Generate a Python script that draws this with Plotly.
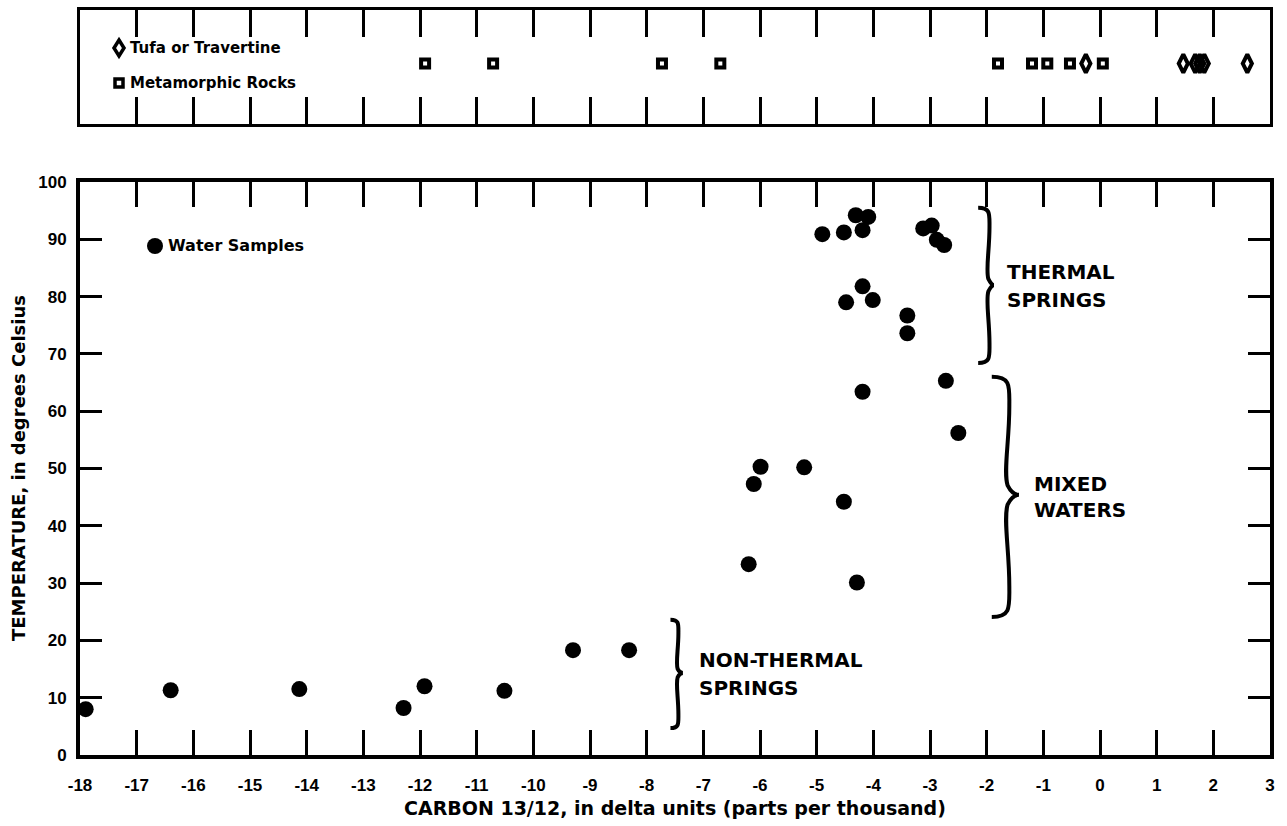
import plotly.graph_objects as go

# --- Carbon-13/12 (delta units) and temperature of water samples ---
water_d13c = [-17.9, -16.4, -14.13, -12.29, -11.92, -10.51, -9.30, -8.31,
              -6.20, -6.11, -5.99, -5.22, -4.52, -4.29, -4.19, -2.72, -2.50,
              -4.90, -4.52, -4.31, -4.09, -4.19, -3.12, -2.97, -2.88, -2.75,
              -4.19, -4.48, -4.01, -3.40, -3.40]
water_temp_c = [8.0, 11.3, 11.5, 8.2, 12.0, 11.2, 18.3, 18.3,
                33.3, 47.3, 50.3, 50.2, 44.2, 30.1, 63.4, 65.3, 56.2,
                90.9, 91.2, 94.2, 93.9, 91.6, 91.9, 92.4, 89.9, 89.0,
                81.8, 79.0, 79.4, 76.7, 73.6]

# --- Rock samples (strip above the main plot) ---
tufa_d13c = [-0.25, 1.47, 1.68, 1.76, 1.84, 2.60]
metamorphic_d13c = [-11.91, -10.71, -7.73, -6.70, -1.80, -1.20, -0.93, -0.53, 0.05]

# --- Axis ticks ---
x_ticks = list(range(-18, 4))
x_tick_labels = [str(v) for v in x_ticks]
y_ticks = list(range(0, 101, 10))
y_tick_labels = [str(v) for v in y_ticks]

STRIP_ROW = 0.53
INK = "black"
TICK_FONT = dict(family="Liberation Sans", size=17, color=INK, weight="bold")
TEXT_FONT = dict(family="DejaVu Sans", size=20, color=INK, weight="bold")

fig = go.Figure()

fig.add_trace(go.Scatter(
    x=water_d13c, y=water_temp_c, mode="markers", name="Water Samples",
    marker=dict(symbol="circle", size=16, color=INK, line=dict(width=0)),
    xaxis="x", yaxis="y", showlegend=False))

fig.add_trace(go.Scatter(
    x=metamorphic_d13c, y=[STRIP_ROW] * len(metamorphic_d13c), mode="markers",
    name="Metamorphic Rocks",
    marker=dict(symbol="square-open", size=8, color=INK, line=dict(width=4, color=INK)),
    xaxis="x2", yaxis="y2", showlegend=False))

fig.add_trace(go.Scatter(
    x=tufa_d13c, y=[STRIP_ROW] * len(tufa_d13c), mode="markers",
    name="Tufa or Travertine",
    marker=dict(symbol="diamond-tall-open", size=13, color=INK, line=dict(width=4, color=INK)),
    xaxis="x2", yaxis="y2", showlegend=False))


def brace_path(x_end, x_spine, x_tip, y_top, y_bot, y_tip):
    """Right-facing curly brace '}' in data coordinates, built from cubic curves."""
    w = x_spine - x_end
    t = x_tip - x_spine
    h1 = y_top - y_tip
    h2 = y_tip - y_bot
    return (
        f"M {x_end},{y_top} "
        f"C {x_spine + 0.1 * w},{y_top} {x_spine},{y_top - 0.08 * h1} {x_spine},{y_top - 0.25 * h1} "
        f"C {x_spine},{y_top - 0.55 * h1} {x_spine - 0.35 * w},{y_tip + 0.2 * h1} {x_spine - 0.1 * w},{y_tip + 0.08 * h1} "
        f"C {x_spine + 0.1 * w},{y_tip + 0.02 * h1} {x_spine + 0.6 * t},{y_tip} {x_tip},{y_tip} "
        f"C {x_spine + 0.6 * t},{y_tip} {x_spine + 0.1 * w},{y_tip - 0.02 * h2} {x_spine - 0.1 * w},{y_tip - 0.08 * h2} "
        f"C {x_spine - 0.35 * w},{y_tip - 0.2 * h2} {x_spine},{y_bot + 0.55 * h2} {x_spine},{y_bot + 0.25 * h2} "
        f"C {x_spine},{y_bot + 0.08 * h2} {x_spine + 0.1 * w},{y_bot} {x_end},{y_bot}"
    )


shapes = []
for x_end, x_spine, x_tip, y_top, y_bot, y_tip in [
        (-2.15, -1.95, -1.87, 95.5, 68.4, 82.0),    # thermal springs
        (-1.91, -1.60, -1.43, 66.0, 24.1, 45.4),    # mixed waters
        (-7.58, -7.44, -7.36, 23.6, 4.7, 14.3)]:    # non-thermal springs
    shapes.append(dict(type="path", xref="x", yref="y",
                       path=brace_path(x_end, x_spine, x_tip, y_top, y_bot, y_tip),
                       line=dict(color=INK, width=4)))

# Legend keys (pixel-sized, anchored in paper coordinates)
PLOT_L, PLOT_R, PLOT_B, PLOT_T = 80, 1270, 755, 10
PLOT_H = 826 - 71 - 10


def px(xp):
    return (xp - PLOT_L) / (PLOT_R - PLOT_L)


def py(yp):
    return (PLOT_B - yp) / PLOT_H


shapes.append(dict(type="circle", xref="paper", yref="paper",
                   xsizemode="pixel", ysizemode="pixel",
                   xanchor=px(155), yanchor=py(246),
                   x0=-8, x1=8, y0=-8, y1=8, fillcolor=INK, line=dict(width=0)))
shapes.append(dict(type="path", xref="paper", yref="paper",
                   xsizemode="pixel", ysizemode="pixel",
                   xanchor=px(119), yanchor=py(48),
                   path="M 0,8 L 5,0 L 0,-8 L -5,0 Z",
                   fillcolor="white", line=dict(color=INK, width=3.5)))
shapes.append(dict(type="rect", xref="paper", yref="paper",
                   xsizemode="pixel", ysizemode="pixel",
                   xanchor=px(119), yanchor=py(83),
                   x0=-4, x1=4, y0=-4, y1=4,
                   fillcolor="white", line=dict(color=INK, width=3.5)))

annotations = [
    dict(text="Water Samples", x=px(166), y=py(246), xref="paper", yref="paper",
         xanchor="left", yanchor="middle", showarrow=False,
         font=dict(TEXT_FONT, size=16)),
    dict(text="Tufa or Travertine", x=px(128), y=py(48), xref="paper", yref="paper",
         xanchor="left", yanchor="middle", showarrow=False,
         font=dict(TEXT_FONT, size=15)),
    dict(text="Metamorphic Rocks", x=px(128), y=py(83), xref="paper", yref="paper",
         xanchor="left", yanchor="middle", showarrow=False,
         font=dict(TEXT_FONT, size=15)),
    dict(text="CARBON 13/12, in delta units (parts per thousand)",
         x=0.5, y=py(808), xref="paper", yref="paper",
         xanchor="center", yanchor="middle", showarrow=False,
         font=dict(TEXT_FONT, size=19)),
    dict(text="TEMPERATURE, in degrees Celsius", textangle=-90,
         x=px(18), y=py(468), xref="paper", yref="paper",
         xanchor="center", yanchor="middle", showarrow=False,
         font=dict(TEXT_FONT, size=18)),
]

group_labels = [("THERMAL", -1.677, 84.3), ("SPRINGS", -1.677, 79.4),
                ("MIXED", -1.20, 47.3), ("WATERS", -1.20, 42.8),
                ("NON-THERMAL", -7.11, 16.6), ("SPRINGS", -7.11, 11.7)]
for text, gx, gy in group_labels:
    annotations.append(dict(text=text, x=gx, y=gy, xref="x", yref="y",
                            xanchor="left", yanchor="middle", showarrow=False,
                            font=TEXT_FONT))

axis_common = dict(showgrid=False, zeroline=False, showline=True,
                   linecolor=INK, linewidth=4, ticks="inside",
                   tickcolor=INK, tickwidth=3, mirror="ticks", automargin=False)

fig.update_layout(
    width=1287, height=826,
    margin=dict(l=PLOT_L, r=1287 - PLOT_R, t=PLOT_T, b=71, autoexpand=False),
    paper_bgcolor="white", plot_bgcolor="white",
    showlegend=False,
    xaxis=dict(axis_common, range=[-18, 3], tickvals=x_ticks, ticktext=x_tick_labels,
               ticklen=25, tickfont=TICK_FONT, ticklabelstandoff=12,
               anchor="y", domain=[0, 1]),
    yaxis=dict(axis_common, range=[0, 100], tickvals=y_ticks, ticktext=y_tick_labels,
               ticklen=22, tickfont=TICK_FONT, ticklabelstandoff=6,
               domain=[0, py(182)], anchor="x"),
    xaxis2=dict(axis_common, range=[-18, 3], tickvals=x_ticks, linewidth=3,
                ticklen=27, showticklabels=False, anchor="y2", domain=[0, 1]),
    yaxis2=dict(showgrid=False, zeroline=False, showline=True, linecolor=INK,
                linewidth=3, mirror=True, ticks="", showticklabels=False,
                automargin=False,
                range=[0, 1], domain=[py(124), 1], anchor="x2"),
    shapes=shapes,
    annotations=annotations,
)

fig.write_html("out.html")
